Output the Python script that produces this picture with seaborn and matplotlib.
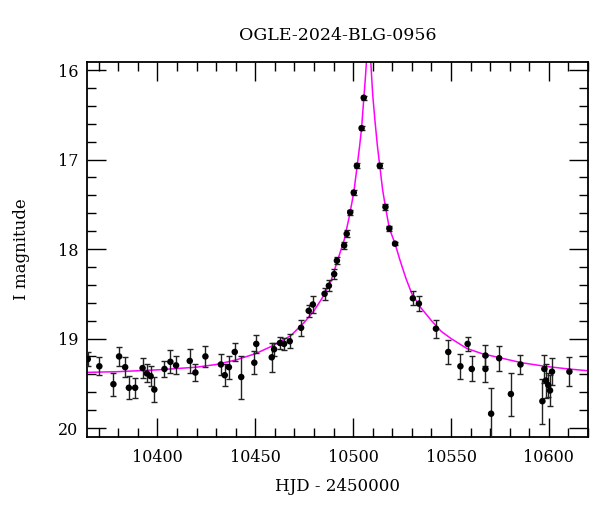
import matplotlib
matplotlib.use('Agg')
import matplotlib.pyplot as plt
from matplotlib.ticker import MultipleLocator
import seaborn as sns
import pandas as pd

# OGLE photometry (HJD - 2450000, I mag, error)
hjd = [10364.4, 10370.3, 10377.5, 10380.4, 10383.5, 10385.4, 10388.6, 10392.4, 10394.6, 10396.5,
       10398.4, 10403.6, 10406.6, 10409.5, 10416.5, 10419.4, 10424.5, 10432.4, 10434.4, 10436.5,
       10439.5, 10442.8, 10449.5, 10450.5, 10458.4, 10459.6, 10462.6, 10464.7, 10467.6, 10473.4,
       10477.3, 10479.4, 10485.4, 10487.6, 10490.3, 10491.7, 10495.4, 10496.7, 10498.5, 10500.3,
       10501.9, 10504.3, 10505.4, 10513.6, 10516.5, 10518.5, 10521.4, 10530.5, 10533.6, 10542.3,
       10548.6, 10554.8, 10558.5, 10560.6, 10567.6, 10567.6, 10570.5, 10574.6, 10580.6, 10585.5,
       10596.7, 10597.7, 10598.5, 10599.7, 10600.6, 10601.6, 10610.5]
mag = [19.23, 19.31, 19.51, 19.20, 19.32, 19.55, 19.55, 19.33, 19.39, 19.42,
       19.57, 19.34, 19.26, 19.30, 19.25, 19.38, 19.20, 19.29, 19.41, 19.32,
       19.15, 19.43, 19.27, 19.06, 19.21, 19.12, 19.05, 19.06, 19.03, 18.88,
       18.69, 18.62, 18.50, 18.41, 18.28, 18.13, 17.96, 17.83, 17.59, 17.37,
       17.07, 16.65, 16.31, 17.07, 17.53, 17.77, 17.94, 18.55, 18.61, 18.89,
       19.15, 19.31, 19.06, 19.34, 19.19, 19.34, 19.84, 19.22, 19.62, 19.29,
       19.70, 19.34, 19.47, 19.52, 19.58, 19.37, 19.37]
err = [0.08, 0.10, 0.13, 0.11, 0.11, 0.13, 0.11, 0.11, 0.10, 0.11,
       0.14, 0.09, 0.13, 0.10, 0.13, 0.10, 0.12, 0.12, 0.12, 0.13,
       0.10, 0.24, 0.13, 0.10, 0.16, 0.07, 0.07, 0.07, 0.08, 0.09,
       0.07, 0.09, 0.07, 0.06, 0.06, 0.04, 0.04, 0.04, 0.03, 0.03,
       0.03, 0.02, 0.02, 0.03, 0.03, 0.03, 0.02, 0.08, 0.08, 0.10,
       0.13, 0.14, 0.08, 0.14, 0.12, 0.15, 0.29, 0.14, 0.24, 0.11,
       0.25, 0.16, 0.19, 0.13, 0.17, 0.15, 0.16]

# model curve
model_t = [10360, 10380, 10400, 10420, 10430, 10440, 10450, 10458, 10468, 10475,
           10480, 10485, 10488.6, 10492, 10495.4, 10498, 10500.3, 10501.9, 10503.3, 10504.3,
           10505.4, 10506.2, 10506.8, 10507.9, 10509.0, 10510.0, 10511.2, 10512.4, 10513.6, 10515,
           10516.5, 10518.5, 10521.4, 10524, 10527, 10530, 10534, 10540, 10545, 10550,
           10558, 10566, 10576, 10586, 10598, 10610, 10625]
model_m = [19.38, 19.37, 19.35, 19.32, 19.29, 19.24, 19.17, 19.09, 18.97, 18.82,
           18.69, 18.52, 18.36, 18.13, 17.90, 17.64, 17.37, 17.10, 16.85, 16.65,
           16.33, 16.10, 15.91, 15.30, 15.91, 16.28, 16.58, 16.85, 17.07, 17.33,
           17.53, 17.77, 17.94, 18.13, 18.33, 18.50, 18.64, 18.80, 18.92, 19.00,
           19.11, 19.17, 19.22, 19.27, 19.31, 19.34, 19.37]

df = pd.DataFrame({'HJD': hjd, 'I': mag, 'err': err})
model = pd.DataFrame({'HJD': model_t, 'I': model_m})

sns.set_style('ticks')
plt.rcParams['font.family'] = ['DejaVu Serif']
plt.rcParams['xtick.direction'] = 'in'
plt.rcParams['ytick.direction'] = 'in'
plt.rcParams['text.color'] = 'black'
plt.rcParams['axes.labelcolor'] = 'black'
plt.rcParams['xtick.color'] = 'black'
plt.rcParams['ytick.color'] = 'black'
plt.rcParams['axes.edgecolor'] = 'black'

fig = plt.figure(figsize=(6, 5.12), dpi=100)
ax = fig.add_axes([0.145, 0.1465, 0.835, 0.7325])

sns.lineplot(data=model, x='HJD', y='I', color='#ff00ff', linewidth=1.1, sort=False, ax=ax, zorder=2)
ax.errorbar(df['HJD'], df['I'], yerr=df['err'], fmt='none', ecolor='#222222',
            elinewidth=1, capsize=2.4, capthick=1, zorder=3)
sns.scatterplot(data=df, x='HJD', y='I', color='black', s=22, edgecolor='none', ax=ax, zorder=4)

ax.set_xlim(10364, 10620)
ax.set_ylim(20.1, 15.91)
ax.xaxis.set_major_locator(MultipleLocator(50))
ax.xaxis.set_minor_locator(MultipleLocator(10))
ax.yaxis.set_major_locator(MultipleLocator(1))
ax.yaxis.set_minor_locator(MultipleLocator(0.2))
ax.tick_params(which='both', top=True, right=True, width=1, color='black',
               labelcolor='black', labelsize=11.5)
ax.tick_params(which='major', length=13.5)
ax.tick_params(which='minor', length=6.5)
ax.tick_params(axis='x', which='both', pad=9)
ax.tick_params(axis='y', which='both', pad=6)
for s in ax.spines.values():
    s.set_linewidth(1.3)
    s.set_color('black')

ax.set_xlabel('HJD - 2450000', fontsize=12, labelpad=8, color='black')
ax.set_ylabel('I magnitude', fontsize=12, labelpad=20, color='black')
ax.set_title('OGLE-2024-BLG-0956', fontsize=12.5, pad=16, color='black')

plt.savefig('out.png', dpi=100)
plt.close()
